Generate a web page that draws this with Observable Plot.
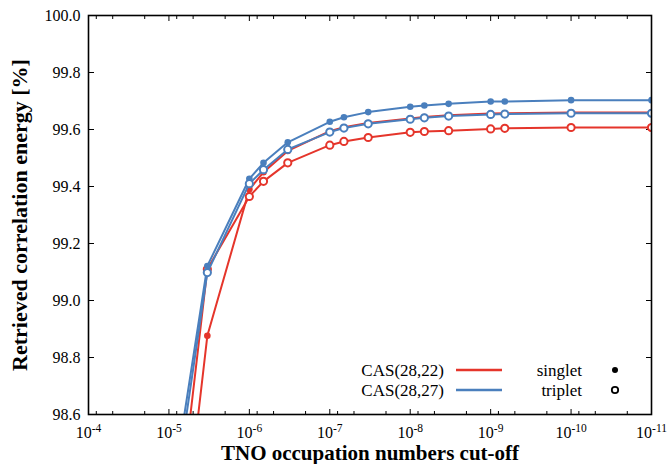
<!DOCTYPE html>
<html><head><meta charset="utf-8">
<script src="https://cdn.jsdelivr.net/npm/d3@7"></script>
<script src="https://cdn.jsdelivr.net/npm/@observablehq/plot@0.6"></script>
<style>
body{margin:0;background:#fff}
#wrap{position:relative;width:668px;height:464px}
#legend{position:absolute;left:0;top:0;pointer-events:none}
</style>
</head><body><div id="wrap"></div>
<script>
// TNO occupation number cut-offs (x) and retrieved correlation energy [%] (y)
const cutoffs = [1e-5, 3.33e-6, 1e-6, 6.67e-7, 3.33e-7, 1e-7, 6.67e-8, 3.33e-8, 1e-8, 6.67e-9, 3.33e-9, 1e-9, 6.67e-10, 1e-10, 1e-11];
const cas22Singlet = [97.71, 98.876, 99.39, 99.45, 99.525, 99.594, 99.608, 99.623, 99.639, 99.644, 99.650, 99.656, 99.657, 99.660, 99.660];
const cas22Triplet = [97.95, 99.110, 99.365, 99.418, 99.483, 99.545, 99.558, 99.572, 99.590, 99.593, 99.596, 99.602, 99.604, 99.607, 99.607];
const cas27Singlet = [98.25, 99.121, 99.427, 99.483, 99.555, 99.627, 99.643, 99.661, 99.680, 99.684, 99.690, 99.698, 99.698, 99.703, 99.703];
const cas27Triplet = [98.18, 99.098, 99.410, 99.459, 99.530, 99.591, 99.605, 99.620, 99.636, 99.641, 99.647, 99.653, 99.654, 99.657, 99.657];

const systems = ["CAS(28,22)", "CAS(28,27)"];
const states = ["singlet", "triplet"];
const colors = ["#e5352b", "#4a7fbd"];

const xTicks = [1e-4, 1e-5, 1e-6, 1e-7, 1e-8, 1e-9, 1e-10, 1e-11];
const yTicks = [98.6, 98.8, 99.0, 99.2, 99.4, 99.6, 99.8, 100.0];
const minorMultiples = [2, 5, 8];
const xTitle = "TNO occupation numbers cut-off";
const yTitle = "Retrieved correlation energy [%]";

const seriesValues = [[cas22Singlet, cas22Triplet], [cas27Singlet, cas27Triplet]];
const rows = [];
seriesValues.forEach((pair, s) => pair.forEach((vals, t) => vals.forEach((v, i) => rows.push({x: cutoffs[i], y: v, system: systems[s], state: states[t]}))));

const minorTicks = [];
for (let n = 5; n <= 11; n++) for (const m of minorMultiples) minorTicks.push(m * Math.pow(10, -n));

const font = "'Liberation Serif', 'DejaVu Serif', serif";
const blank = () => "";

const dataMarks = [];
systems.forEach((sys, s) => {
  states.forEach((st, t) => {
    const d = rows.filter(r => r.system === sys && r.state === st);
    dataMarks.push(Plot.line(d, {x: "x", y: "y", stroke: colors[s], strokeWidth: 2, clip: true}));
  });
  states.forEach((st, t) => {
    const d = rows.filter(r => r.system === sys && r.state === st);
    dataMarks.push(t === 0
      ? Plot.dot(d, {x: "x", y: "y", fill: colors[s], r: 3.3, clip: true})
      : Plot.dot(d, {x: "x", y: "y", fill: "white", stroke: colors[s], strokeWidth: 2, r: 3.6, clip: true}));
  });
});

const chart = Plot.plot({
  width: 668, height: 464,
  marginLeft: 88, marginRight: 17, marginTop: 15, marginBottom: 50,
  style: {fontFamily: font, fontSize: "16px", background: "white", color: "black"},
  x: {type: "log", domain: [1e-4, 1e-11]},
  y: {domain: [98.6, 100.0]},
  marks: [
    Plot.axisX(xTicks, {tickSize: 0, tickPadding: 12, tickFormat: d => String(Math.round(Math.log10(d))), label: null}),
    Plot.axisX(xTicks, {tickSize: -5, tickFormat: blank, label: null}),
    Plot.axisX(xTicks, {anchor: "top", tickSize: -5, tickFormat: blank, label: null}),
    Plot.axisX(minorTicks, {tickSize: -3, tickFormat: blank, label: null}),
    Plot.axisX(minorTicks, {anchor: "top", tickSize: -3, tickFormat: blank, label: null}),
    Plot.axisY(yTicks, {tickSize: 0, tickPadding: 8, tickFormat: d3.format(".1f"), label: null}),
    Plot.axisY(yTicks, {tickSize: -6, tickFormat: blank, label: null}),
    Plot.axisY(yTicks, {anchor: "right", tickSize: -6, tickFormat: blank, label: null}),
    ...dataMarks,
    Plot.frame({stroke: "black", strokeWidth: 1.6}),
    Plot.text([xTitle], {text: d => d, frameAnchor: "bottom", lineAnchor: "middle", textAnchor: "middle", dy: 39, fontWeight: "bold", fontSize: 21}),
    Plot.text([yTitle], {text: d => d, frameAnchor: "left", lineAnchor: "middle", textAnchor: "middle", dx: -69, rotate: -90, fontWeight: "bold", fontSize: 22})
  ]
});

// superscript exponents on the x tick labels
chart.querySelectorAll('g[aria-label="x-axis tick label"] text').forEach(t => {
  const e = t.textContent;
  if (!e) return;
  t.textContent = "";
  const base = document.createElementNS("http://www.w3.org/2000/svg", "tspan");
  base.textContent = "10";
  const sup = document.createElementNS("http://www.w3.org/2000/svg", "tspan");
  sup.setAttribute("dy", "-0.5em");
  sup.setAttribute("font-size", "11.5px");
  sup.textContent = e;
  t.appendChild(base); t.appendChild(sup);
});

const wrap = document.getElementById("wrap");
wrap.appendChild(chart);

// legend inside the plot area
const leg = d3.select(wrap).append("svg").attr("id", "legend").attr("width", 668).attr("height", 464)
  .style("font-family", font).style("font-size", "17px");
const rowY = [370, 390];
systems.forEach((sys, i) => {
  const y = rowY[i];
  leg.append("text").attr("x", 444).attr("y", y).attr("text-anchor", "end").attr("dominant-baseline", "central").text(sys);
  leg.append("line").attr("x1", 456).attr("x2", 502).attr("y1", y).attr("y2", y).attr("stroke", colors[i]).attr("stroke-width", 2.5);
  leg.append("text").attr("x", 582).attr("y", y).attr("text-anchor", "end").attr("dominant-baseline", "central").text(states[i]);
  if (i === 0) leg.append("circle").attr("cx", 615).attr("cy", y).attr("r", 3).attr("fill", "black");
  else leg.append("circle").attr("cx", 615).attr("cy", y).attr("r", 3.2).attr("fill", "white").attr("stroke", "black").attr("stroke-width", 1.8);
});
</script>
</body></html>
